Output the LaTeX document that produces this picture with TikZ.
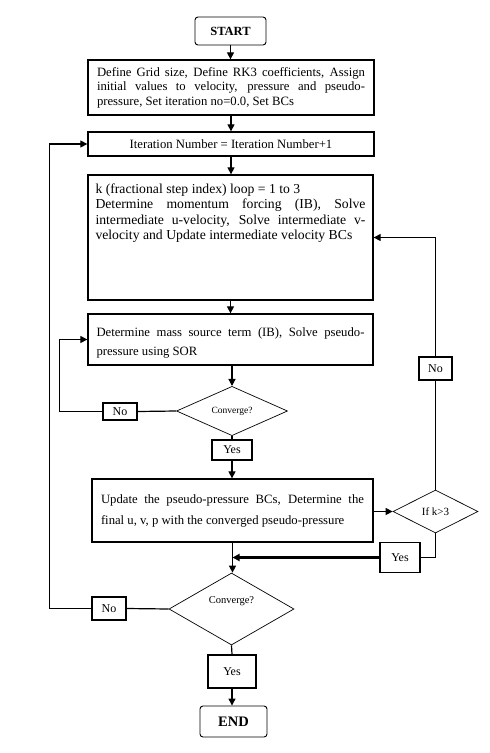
\documentclass[tikz,border=0pt]{standalone}
\usepackage{fontspec}
\setmainfont{Liberation Serif}
\usepackage{tikz}
\usetikzlibrary{positioning,shapes.geometric,arrows.meta,calc}

\newcommand{\boxpar}[2]{\parbox{#1}{\sloppy #2}}

\begin{document}
\begin{tikzpicture}[x=1pt,y=-1pt,line width=1.2pt,
		procbox/.style={draw,line width=1.3pt,inner sep=0pt,minimum width=286pt,font=\fontsize{12.7}{14.6}\selectfont},
		termbox/.style={draw,line width=0.9pt,rounded corners=3pt,inner sep=0pt},
		decide/.style={diamond,draw,line width=0.7pt,inner sep=0pt},
		tagbox/.style={draw,line width=1.2pt,inner sep=0pt,font=\fontsize{12}{14}\selectfont},
		flow/.style={-{Triangle[length=7pt,width=7pt]},line width=1.2pt}]
		\useasboundingbox (0,0) rectangle (490,753);
		\def\cx{231}
		\def\kx{435.5}
		
		%main column
		\node[termbox,minimum width=71pt,minimum height=28pt,font=\fontsize{12.5}{14}\selectfont\bfseries] (start) at (230.5,31) {START};
		\node[procbox,minimum height=55pt] (init) at (\cx,87.5) {\boxpar{268pt}{Define Grid size, Define RK3 coefficients, Assign\linebreak initial values to velocity, pressure and pseudo-\linebreak pressure, Set iteration no=0.0, Set BCs}};
		\node[procbox,minimum height=24pt] (iter) at (\cx,144) {Iteration Number = Iteration Number+1};
		\node[procbox,minimum width=285pt,minimum height=125pt,font=\fontsize{13.7}{15.6}\selectfont] (kloop) at (230.5,237.5) {\parbox[c][108pt][t]{270pt}{\sloppy k (fractional step index) loop = 1 to 3\\ Determine momentum forcing (IB), Solve\linebreak intermediate u-velocity, Solve intermediate v-\linebreak velocity and Update intermediate velocity BCs}};
		\node[procbox,minimum width=285pt,minimum height=51pt,font=\fontsize{12.7}{19}\selectfont] (mass) at (230.5,339.5) {\raisebox{-3.5pt}[\height][\depth]{\boxpar{268pt}{Determine mass source term (IB), Solve pseudo-\linebreak pressure using SOR}}};
		\node[decide,minimum width=111pt,minimum height=40pt,font=\fontsize{9.5}{11}\selectfont] (conv1) at (232,411) {Converge?};
		\node[tagbox,minimum width=34pt,minimum height=17pt] (no1) at (120,411.5) {No};
		\node[tagbox,minimum width=40pt,minimum height=20pt] (yes1) at (232,450) {Yes};
		\node[procbox,minimum width=281pt,minimum height=63pt,font=\fontsize{12.7}{21}\selectfont] (update) at (232.5,510.5) {\boxpar{263pt}{Update the pseudo-pressure BCs, Determine the\linebreak final u, v, p with the converged pseudo-pressure}};
		
		%k check
		\node[decide,minimum width=85pt,minimum height=43pt,font=\fontsize{11}{13}\selectfont] (kcheck) at (\kx,511.5) {If k>3};
		\node[tagbox,minimum width=33pt,minimum height=23pt] (no2) at (\kx,368.5) {No};
		\node[tagbox,minimum width=40pt,minimum height=30pt] (yes2) at (400,557.5) {Yes};
		
		%outer convergence
		\node[decide,minimum width=125pt,minimum height=72pt,font=\fontsize{10.5}{12}\selectfont] (conv2) at (231.5,609) {\raisebox{5.5pt}[0pt][0pt]{Converge?}};
		\node[tagbox,minimum width=34pt,minimum height=23pt] (no3) at (109,608.5) {No};
		\node[tagbox,minimum width=48pt,minimum height=33pt] (yes3) at (232,671.5) {Yes};
		\node[termbox,minimum width=67pt,minimum height=31pt,font=\fontsize{14.5}{16}\selectfont\bfseries] (stop) at (233.5,721.5) {END};
		
		%connectors
		\draw[flow] (start.south) -- (start.south |- init.north);
		\draw[flow] (init.south) -- (init.south |- iter.north);
		\draw[flow] (iter.south) -- (iter.south |- kloop.north);
		\draw[flow] (kloop.south) -- (kloop.south |- mass.north);
		\draw[flow] (mass.south -| conv1.north) -- (conv1.north);
		\draw (conv1.south) -- (yes1.north);
		\draw[flow] (yes1.south) -- (yes1.south |- update.north);
		\draw (conv1.west) -- (no1.east);
		\draw[flow] (no1.west) -| ([xshift=-28pt]mass.west) -- (mass.west);
		\draw[flow] (kcheck.west -| update.east) -- (kcheck.west);
		\draw (kcheck.north) -- (no2.south);
		\draw[flow] (no2.north) |- (kloop.east);
		\draw (kcheck.south) |- (yes2.east);
		\draw[flow,line width=2.2pt] (yes2.west) -- (yes2.west -| update.south);
		\draw[flow] (update.south) -- (update.south |- conv2.north);
		\draw (conv2.west) -- (no3.east);
		\draw[flow] (no3.west) -| ([xshift=-38pt]iter.west) -- (iter.west);
		\draw (conv2.south) -- (yes3.north);
		\draw[flow] (yes3.south) -- (yes3.south |- stop.north);
	\end{tikzpicture}
\end{document}
